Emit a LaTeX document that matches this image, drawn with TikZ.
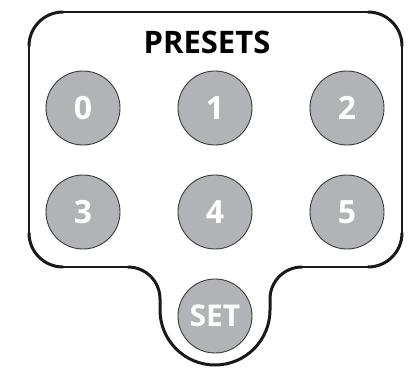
\documentclass[tikz,border=0pt]{standalone}
\usepackage{fontspec}
\setmainfont{Open Sans}
\usepackage{tikz}
\usepackage{xcolor}

\definecolor{grisboton}{HTML}{B1B3B6}
\definecolor{bordeboton}{HTML}{3A3A3A}

\begin{document}
\begin{tikzpicture}[
    x=1pt, y=-1pt,
    % Estilos para no repetir codigo
    boton/.style={circle, draw=bordeboton, line width=0.9pt, fill=grisboton,
      minimum size=74pt, inner sep=0pt, text=white,
      font=\bfseries\fontsize{32}{32}\selectfont},
    contorno/.style={draw=black!90, line width=1.6pt, line join=round},
    esquina/.style={draw=black!90, line width=3pt, line cap=round}
  ]
  \useasboundingbox (0,0) rectangle (417,367);

  % 1. Contorno del panel
  \draw[contorno] (29,233) -- (29,46)
    arc[start angle=180, end angle=270, radius=34] -- (368,12)
    arc[start angle=270, end angle=360, radius=34] -- (402,233)
    arc[start angle=0, end angle=90, radius=34] -- (302,267)
    arc[start angle=270, end angle=180, radius=32] -- (270,310)
    arc[start angle=0, end angle=180, radius=55] -- (160,299)
    arc[start angle=360, end angle=270, radius=32] -- (63,267)
    arc[start angle=90, end angle=180, radius=34] -- cycle;

  % esquinas mas gruesas
  \draw[esquina] (29,46) arc[start angle=180, end angle=270, radius=34];
  \draw[esquina] (368,12) arc[start angle=270, end angle=360, radius=34];
  \draw[esquina] (402,233) arc[start angle=0, end angle=90, radius=34];
  \draw[esquina] (63,267) arc[start angle=90, end angle=180, radius=34];
  \draw[esquina] (302,267) arc[start angle=270, end angle=180, radius=32]
    -- (270,310) arc[start angle=0, end angle=180, radius=55] -- (160,299)
    arc[start angle=360, end angle=270, radius=32];

  % 2. Titulo
  \node (titulo) at (207,42) {\fontsize{31}{31}\selectfont\bfseries PRESETS};

  % 3. Botones
  \node[boton] (b0) at (83,108) {0};
  \node[boton] (b1) at (215,108) {1};
  \node[boton] (b2) at (347,108) {2};
  \node[boton] (b3) at (83,212) {3};
  \node[boton] (b4) at (215,212) {4};
  \node[boton] (b5) at (347,212) {5};
  \node[boton, font=\bfseries\fontsize{30}{30}\selectfont] (bset) at (215,316) {SET};

\end{tikzpicture}
\end{document}
